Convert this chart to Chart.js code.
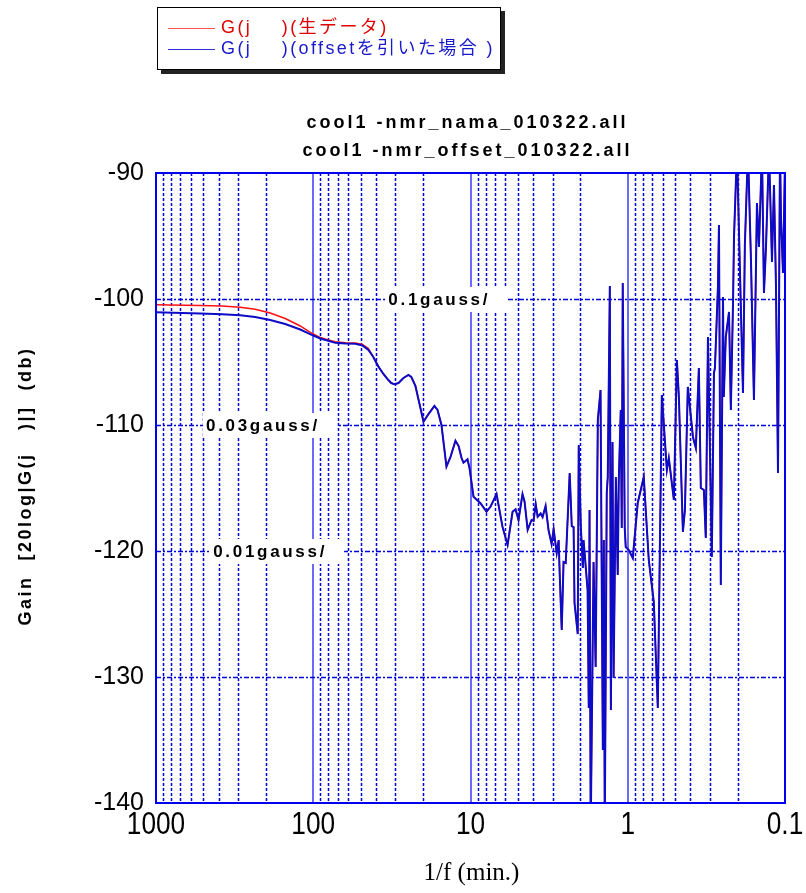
<!DOCTYPE html>
<html>
<head>
<meta charset="utf-8">
<script src="https://cdn.jsdelivr.net/npm/chart.js@4.4.1/dist/chart.umd.min.js"></script>
<style>
  html, body { margin: 0; padding: 0; background: #fff; }
  #wrap { position: relative; width: 806px; height: 893px; overflow: hidden; }
  #chart { position: absolute; left: 0; top: 0; }
  .legend {
    position: absolute; left: 157px; top: 7px; width: 342px; height: 61px;
    border: 1px solid #000; background: #fff; box-shadow: 4px 4px 0 #222;
    font-family: 'Liberation Sans', Arial, 'Noto Sans CJK JP', sans-serif;
    font-size: 18px; letter-spacing: 2.4px;
  }
  .legend .row { position: absolute; left: 10px; height: 20px; line-height: 20px; white-space: pre; }
  .legend .swatch { display: inline-block; width: 47px; height: 0; border-top: 1px solid; vertical-align: middle; margin-right: 6px; }
</style>
</head>
<body>
<div id="wrap">
  <canvas id="chart" width="806" height="893"></canvas>
  <div class="legend">
    <div class="row" style="top:9px; color:#e00000;"><span class="swatch" style="border-color:#ff5050;"></span>G(j    )(生データ)</div>
    <div class="row" style="top:30px; color:#1a1acc;"><span class="swatch" style="border-color:#3030dd; border-top-width:1.5px;"></span>G(j    )(offsetを引いた場合 )</div>
  </div>
</div>
<script>
(function () {
  'use strict';

  // period 1/f in minutes, shared by both traces
  var periodMin = [1000, 524.5, 379.8, 291.7, 234.1, 187.8, 150.8, 121.0, 101.5, 90.2,
    80.25, 72.4, 62.6, 54.0, 48.7, 44.6, 41.5, 38.5, 35.8, 33.3,
    31.9, 30.5, 28.7, 26.7, 24.8, 23.8, 22.4, 21.1, 19.9, 18.5,
    16.96, 16.2, 15.3, 14.22, 13.4, 12.46, 11.9, 11.4, 11.08, 10.76,
    10.45, 10.15, 9.57, 8.64, 7.91, 7.46,
    6.83, 6.26, 5.81, 5.40, 5.17, 4.95, 4.67, 4.53, 4.33, 4.09,
    3.97, 3.85, 3.74, 3.58, 3.48, 3.33, 3.19, 3.05, 2.96, 2.83,
    2.75, 2.71, 2.63, 2.56, 2.48, 2.34, 2.27, 2.21, 2.18, 2.08,
    2.05, 1.99, 1.93, 1.91, 1.80, 1.77, 1.75, 1.72, 1.65, 1.60,
    1.55, 1.49, 1.44, 1.42, 1.40, 1.36, 1.34, 1.30, 1.28, 1.25,
    1.23, 1.19, 1.158, 1.141, 1.108, 1.092, 1.076, 1.045, 1.030, 0.985,
    0.929, 0.864, 0.791, 0.735, 0.683, 0.644, 0.607, 0.564, 0.548, 0.509,
    0.487, 0.473, 0.446, 0.433, 0.415, 0.385, 0.369, 0.353, 0.343, 0.328,
    0.319, 0.309, 0.292, 0.283, 0.279, 0.267, 0.263, 0.256, 0.248, 0.245,
    0.238, 0.227, 0.221, 0.214, 0.211, 0.202, 0.1935, 0.185, 0.180, 0.172,
    0.1646, 0.1576, 0.1508, 0.1464, 0.1401, 0.1361, 0.1321, 0.1264, 0.1210, 0.1175,
    0.1141, 0.1108, 0.1076, 0.1060, 0.1030, 0.100];

  // gain (dB) after the offset is removed
  var gainOffset = [-101.06, -101.15, -101.21, -101.29, -101.43, -101.67, -101.98, -102.42, -102.86, -103.13,
    -103.31, -103.48, -103.53, -103.56, -103.69, -104.05, -104.60, -105.37, -105.95, -106.43,
    -106.67, -106.77, -106.67, -106.27, -106.03, -106.19, -106.90, -108.33, -109.74, -109.13,
    -108.49, -108.81, -110.0, -113.31, -112.54, -111.25, -111.67, -112.62, -112.99, -112.86,
    -112.72, -113.41, -115.69, -116.21, -116.88, -116.48,
    -115.48, -118.07, -119.52, -116.88, -116.69, -117.54, -115.48, -116.09, -118.33, -117.54,
    -117.60, -116.27, -117.28, -117.02, -117.30, -116.43, -118.33, -119.44, -118.28, -120.16,
    -119.13, -121.75, -126.27, -120.87, -120.95, -113.81, -118.02, -118.10, -124.13, -126.59,
    -111.59, -117.94, -121.35, -119.13, -123.10, -132.46, -116.75, -142.2, -120.87, -129.21,
    -109.60, -107.22, -135.79, -119.13, -142.2, -115.40, -114.13, -98.97, -132.62, -111.35,
    -130.08, -114.13, -121.90, -114.52, -108.81, -118.17, -98.73, -118.17, -119.68, -119.92,
    -120.56, -116.19, -114.13, -120.71, -124.05, -132.46, -107.62, -113.57, -112.62, -115.95,
    -104.84, -107.78, -118.49, -116.75, -106.98, -110.95, -111.83, -105.48, -115.0, -115.16,
    -118.97, -103.02, -120.48, -105.87, -105.48, -99.05, -94.13, -122.70, -99.84, -107.78,
    -103.02, -101.03, -108.81, -100.24, -95.08, -88.2, -97.70, -107.46, -95.71, -88.2,
    -96.90, -108.02, -92.38, -95.87, -88.2, -99.52, -95.87, -88.2, -97.06, -90.95,
    -99.05, -113.81, -88.2, -93.73, -97.94, -88.97];

  // raw gain (dB): differs only at the long-period end, identical afterwards
  var gainRawHead = [-100.45, -100.52, -100.56, -100.66, -100.81, -101.11, -101.55, -102.14, -102.74, -103.06,
    -103.25, -103.40, -103.47, -103.49, -103.61, -103.93];

  var xTickValues = [1000, 100, 10, 1, 0.1];
  var xTickLabels = ['1000', '100', '10', '1', '0.1'];
  var yTickValues = [-90, -100, -110, -120, -130, -140];
  var hGridValues = [-100, -110, -120, -130];
  var decadeLines = [100, 10, 1];
  var decadeStarts = [0.1, 1, 10, 100];
  var minorSteps = [2, 3, 4, 5, 6, 7, 8, 9];

  var noteLabels = ['0.1gauss/', '0.03gauss/', '0.01gauss/'];
  var notePeriod = [33.3, 481, 433];
  var noteGain = [-100, -110, -120];

  var titleLines = ['cool1 -nmr_nama_010322.all', 'cool1 -nmr_offset_010322.all'];
  var yTitle = 'Gain  [20log|G(j   )|]  (db)';
  var xTitle = '1/f (min.)';

  var gainRaw = gainRawHead.concat(gainOffset.slice(gainRawHead.length));

  function toPoints(ys) {
    return periodMin.map(function (p, i) { return { x: p, y: ys[i] }; });
  }

  var minorGrid = [];
  decadeStarts.forEach(function (d) {
    minorSteps.forEach(function (m) { minorGrid.push(d * m); });
  });

  function spacing(ctx, px) {
    if ('letterSpacing' in ctx) ctx.letterSpacing = px + 'px';
  }

  var paperGrid = {
    id: 'paperGrid',
    beforeDatasetsDraw: function (chart) {
      var ctx = chart.ctx;
      var a = chart.chartArea;
      var xs = chart.scales.x;
      var ys = chart.scales.y;
      ctx.save();
      ctx.beginPath();
      ctx.rect(a.left, a.top, a.right - a.left, a.bottom - a.top);
      ctx.clip();

      // dotted minor lines inside each decade
      ctx.strokeStyle = '#0000dd';
      ctx.lineWidth = 1.5;
      ctx.setLineDash([3, 2]);
      minorGrid.forEach(function (v) {
        var px = Math.round(xs.getPixelForValue(v)) + 0.5;
        ctx.beginPath();
        ctx.moveTo(px, a.top);
        ctx.lineTo(px, a.bottom);
        ctx.stroke();
      });

      // solid decade lines
      ctx.setLineDash([]);
      ctx.strokeStyle = '#6a6aff';
      ctx.lineWidth = 2;
      decadeLines.forEach(function (v) {
        var px = Math.round(xs.getPixelForValue(v));
        ctx.beginPath();
        ctx.moveTo(px, a.top);
        ctx.lineTo(px, a.bottom);
        ctx.stroke();
      });

      // dash-dot horizontal lines
      ctx.strokeStyle = '#0000dd';
      ctx.lineWidth = 1.5;
      ctx.setLineDash([5, 2, 2, 2]);
      hGridValues.forEach(function (v) {
        var py = Math.round(ys.getPixelForValue(v)) + 0.5;
        ctx.beginPath();
        ctx.moveTo(a.left, py);
        ctx.lineTo(a.right, py);
        ctx.stroke();
      });
      ctx.setLineDash([]);

      // level notes on white boxes
      ctx.font = 'bold 17px "Liberation Sans", Arial, sans-serif';
      spacing(ctx, 2.7);
      ctx.textBaseline = 'middle';
      ctx.textAlign = 'left';
      noteLabels.forEach(function (t, i) {
        var x = xs.getPixelForValue(notePeriod[i]);
        var y = ys.getPixelForValue(noteGain[i]);
        var w = ctx.measureText(t).width;
        ctx.fillStyle = '#fff';
        ctx.fillRect(x - 3, y - 12, w + 20, 25);
        ctx.fillStyle = '#000';
        ctx.fillText(t, x, y + 1);
      });
      ctx.restore();
    },
    afterDraw: function (chart) {
      var ctx = chart.ctx;
      var a = chart.chartArea;
      var xs = chart.scales.x;
      ctx.save();
      ctx.strokeStyle = '#0000ee';
      ctx.lineWidth = 2;
      ctx.strokeRect(a.left, a.top, a.right - a.left, a.bottom - a.top);

      // condensed decade labels under the axis
      ctx.fillStyle = '#000';
      ctx.textAlign = 'center';
      ctx.textBaseline = 'alphabetic';
      ctx.font = '32px "Liberation Sans", Arial, sans-serif';
      xTickValues.forEach(function (v, i) {
        ctx.save();
        ctx.translate(xs.getPixelForValue(v), 834);
        ctx.scale(0.82, 1);
        ctx.fillText(xTickLabels[i], 0, 0);
        ctx.restore();
      });

      var cx = (a.left + a.right) / 2 - 3;
      ctx.textBaseline = 'middle';
      ctx.font = 'bold 18px "Liberation Sans", Arial, sans-serif';
      spacing(ctx, 3);
      ctx.fillText(titleLines[0], cx, 123);
      ctx.fillText(titleLines[1], cx, 151);

      ctx.save();
      ctx.translate(26, (a.top + a.bottom) / 2 - 2);
      ctx.rotate(-Math.PI / 2);
      spacing(ctx, 2.5);
      ctx.fillText(yTitle, 0, 0);
      ctx.restore();

      spacing(ctx, 0);
      ctx.font = '25px "Liberation Serif", "Times New Roman", serif';
      ctx.fillText(xTitle, cx + 4, 873);
      ctx.restore();
    }
  };

  new Chart(document.getElementById('chart').getContext('2d'), {
    type: 'line',
    plugins: [paperGrid],
    data: {
      datasets: [{
        label: 'offset',
        data: toPoints(gainOffset),
        borderColor: '#0c0cc8',
        borderWidth: 2,
        pointRadius: 0,
        tension: 0
      }, {
        label: 'raw',
        data: toPoints(gainRaw),
        borderColor: '#ff1010',
        borderWidth: 1.5,
        pointRadius: 0,
        tension: 0
      }]
    },
    options: {
      responsive: false,
      animation: false,
      events: [],
      layout: { padding: { left: 0, top: 173, right: 21, bottom: 0 } },
      plugins: { legend: { display: false }, title: { display: false }, tooltip: { enabled: false } },
      scales: {
        x: {
          type: 'logarithmic',
          reverse: true,
          min: 0.1,
          max: 1000,
          grid: { display: false },
          border: { display: false },
          afterBuildTicks: function (scale) {
            scale.ticks = xTickValues.map(function (v) { return { value: v }; });
          },
          afterFit: function (scale) { scale.height = 90; },
          ticks: { display: false }
        },
        y: {
          type: 'linear',
          min: -140,
          max: -90,
          grid: { display: false, drawTicks: false },
          border: { display: false },
          afterBuildTicks: function (scale) {
            scale.ticks = yTickValues.map(function (v) { return { value: v }; });
          },
          afterFit: function (scale) { scale.width = 156; },
          ticks: {
            padding: 12,
            color: '#000',
            font: { family: '"Liberation Sans", Arial, sans-serif', size: 25 },
            callback: function (v) { return String(v); }
          }
        }
      }
    }
  });
})();
</script>
</body>
</html>
